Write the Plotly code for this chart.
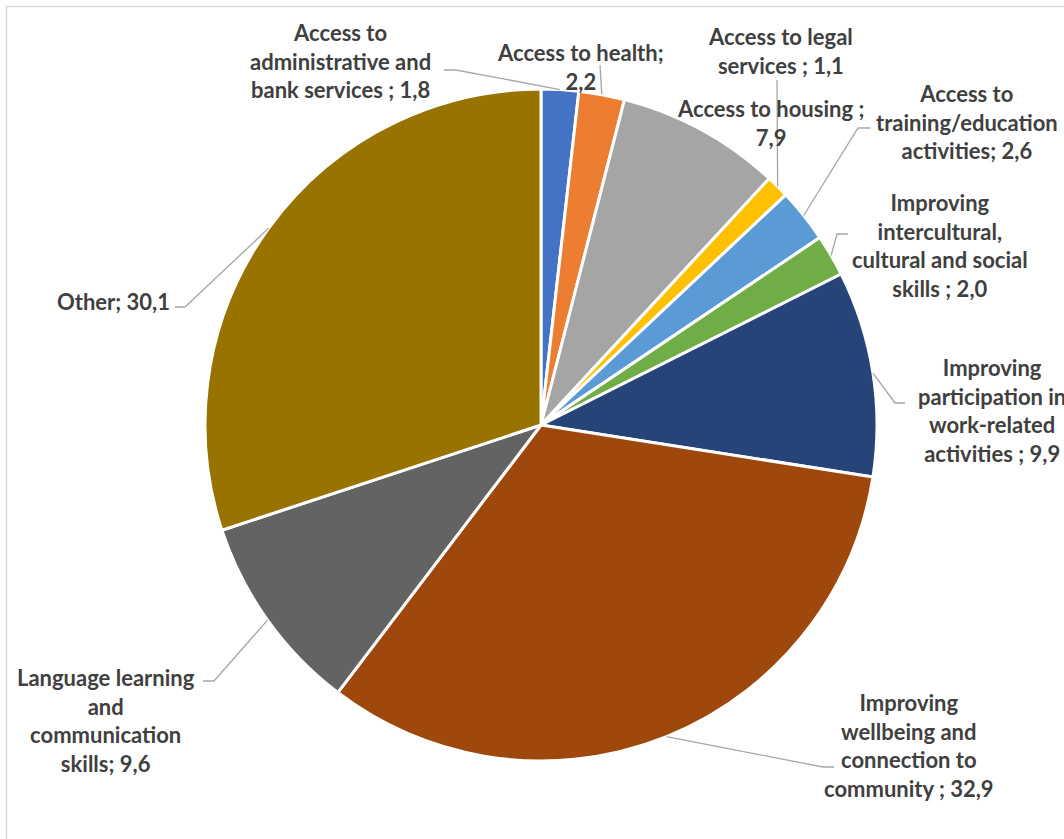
import math
import plotly.graph_objects as go

# ---------------- data ----------------
categories = [
    "Access to administrative and bank services",
    "Access to health",
    "Access to housing",
    "Access to legal services",
    "Access to training/education activities",
    "Improving intercultural, cultural and social skills",
    "Improving participation in work-related activities",
    "Improving wellbeing and connection to community",
    "Language learning and communication skills",
    "Other",
]
values = [1.8, 2.2, 7.9, 1.1, 2.6, 2.0, 9.9, 32.9, 9.6, 30.1]
label_texts = [
    "Access to<br>administrative and<br>bank services ; 1,8",
    "Access to health;<br>2,2",
    "Access to housing ;<br>7,9",
    "Access to legal<br>services ; 1,1",
    "Access to<br>training/education<br>activities; 2,6",
    "Improving<br>intercultural,<br>cultural and social<br>skills ; 2,0",
    "Improving<br>participation in<br>work-related<br>activities ; 9,9",
    "Improving<br>wellbeing and<br>connection to<br>community ; 32,9",
    "Language learning<br>and<br>communication<br>skills; 9,6",
    "Other; 30,1",
]

# ---------------- style / layout ----------------
colors = ["#4472C4", "#ED7D31", "#A5A5A5", "#FFC000", "#5B9BD5",
          "#70AD47", "#264478", "#9E480E", "#636363", "#997300"]
W, H = 1064, 839
CX, CY, R = 541, 425, 336          # pie centre / radius in pixels

# label block centres (pixels)
label_pos = [(340, 61), (580, 67), (770, 123), (780, 51), (967, 122),
             (940, 245), (992, 411), (909, 745), (106, 720), (113, 301)]
# leader line points after the slice edge (pixels); None = no leader
leader_pts = [
    [(456, 70), (444, 70)],
    [(600, 65)],
    None,
    [(777, 80)],
    [(858, 128), (870, 128)],
    [(837, 234), (848, 234)],
    [(895, 403), (905, 403)],
    [(823, 767), (834, 767)],
    [(214, 681), (203, 681)],
    [(185, 307), (175, 307)],
]

def px(x):
    return x / W

def py(y):
    return 1 - y / H

fig = go.Figure()
fig.add_trace(go.Pie(
    labels=categories,
    values=values,
    sort=False,
    direction="clockwise",
    rotation=0,
    marker=dict(colors=colors, line=dict(color="white", width=3)),
    textinfo="none",
    hoverinfo="label+value",
    showlegend=False,
    domain=dict(x=[px(CX - R), px(CX + R)], y=[py(CY + R), py(CY - R)]),
))

total = sum(values)
cum = 0.0
shapes = []
annotations = []
for i, v in enumerate(values):
    mid = (cum + v / 2) / total * 2 * math.pi
    cum += v
    ex = CX + R * math.sin(mid)
    ey = CY - R * math.cos(mid)
    pts = leader_pts[i]
    if pts:
        path = f"M {px(ex)},{py(ey)}"
        for (x, y) in pts:
            path += f" L {px(x)},{py(y)}"
        shapes.append(dict(type="path", xref="paper", yref="paper", path=path,
                           line=dict(color="#A6A6A6", width=1.3)))
    lx, ly = label_pos[i]
    annotations.append(dict(
        x=px(lx), y=py(ly), xref="paper", yref="paper",
        text=label_texts[i], showarrow=False, align="center",
        xanchor="center", yanchor="middle",
        font=dict(family="Lato", size=22, color="#404040", weight="bold"),
    ))

# chart area border (extends beyond right/bottom edges)
shapes.append(dict(type="rect", xref="paper", yref="paper",
                   x0=px(6.5), y0=py(860), x1=px(1090), y1=py(6.5),
                   line=dict(color="#D9D9D9", width=1.5), layer="below"))

fig.update_layout(
    width=W, height=H,
    margin=dict(l=0, r=0, t=0, b=0),
    paper_bgcolor="white",
    plot_bgcolor="white",
    shapes=shapes,
    annotations=annotations,
)

fig.write_html("out.html")
